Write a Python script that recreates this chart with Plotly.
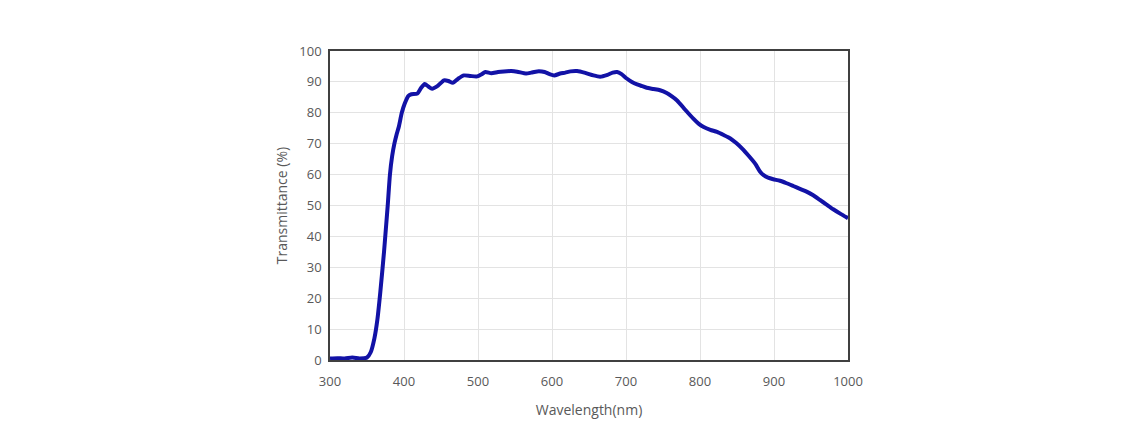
import plotly.graph_objects as go

wavelength = [300, 310, 320, 330, 340, 350, 355, 360, 364, 368, 373, 376, 378, 381, 384, 387, 390, 393, 397, 401,
              406, 410, 418, 423, 428, 433, 438, 446, 454, 460, 466, 473, 481, 490, 499, 505, 510, 518, 527, 535,
              545, 553, 565, 572, 580, 590, 596, 603, 611, 618, 625, 634, 645, 656, 665, 675, 682, 688, 694, 701,
              708, 715, 722, 728, 737, 746, 755, 762, 769, 780, 791, 798, 805, 814, 823, 832, 841, 849, 857, 866,
              875, 881, 886, 892, 899, 908, 917, 926, 935, 944, 953, 962, 971, 980, 990, 1000]
transmittance = [0.5, 0.6, 0.5, 0.8, 0.5, 0.8, 2.5, 7, 13, 22, 35, 44, 50, 60, 66, 70, 73, 75.5, 80, 83,
                 85.5, 86, 86.2, 88, 89.3, 88.5, 87.8, 88.8, 90.5, 90.3, 89.7, 91, 92.1, 91.9, 91.8, 92.5, 93.2, 92.8, 93.2, 93.4,
                 93.5, 93.3, 92.7, 93.0, 93.4, 93.2, 92.6, 92.1, 92.7, 93.0, 93.4, 93.5, 92.9, 92.1, 91.7, 92.3, 93.0, 93.2, 92.5, 91.1,
                 90.0, 89.2, 88.6, 88.1, 87.7, 87.3, 86.4, 85.3, 84.0, 81.0, 78.1, 76.5, 75.4, 74.5, 73.8, 72.8, 71.7, 70.2, 68.4, 66.0,
                 63.4, 61.0, 59.8, 59.0, 58.5, 58.0, 57.2, 56.3, 55.4, 54.5, 53.3, 51.8, 50.3, 48.8, 47.3, 45.9]

x_ticks = [300, 400, 500, 600, 700, 800, 900, 1000]
y_ticks = [0, 10, 20, 30, 40, 50, 60, 70, 80, 90, 100]

fig = go.Figure()
fig.add_trace(go.Scatter(x=wavelength, y=transmittance, mode="lines",
                         line=dict(color="#1212a6", width=4, shape="spline", smoothing=0.6),
                         showlegend=False, hoverinfo="skip"))

font_family = "Open Sans, Noto Sans, sans-serif"
fig.update_layout(
    width=1133, height=435,
    margin=dict(l=321.5, r=293, t=42.5, b=82.5),
    paper_bgcolor="white", plot_bgcolor="white",
    font=dict(family=font_family, color="#595959", size=13),
    xaxis=dict(range=[300, 1000], tickvals=x_ticks, ticktext=[str(v) for v in x_ticks],
               showgrid=True, gridcolor="#e3e3e3", gridwidth=1,
               showline=True, linecolor="#404040", linewidth=1.5, mirror=True,
               zeroline=False, ticks="outside", ticklen=9, tickcolor="rgba(0,0,0,0)",
               tickfont=dict(size=13, color="#595959"),
               title=dict(text="Wavelength(nm)", font=dict(size=14, color="#595959"), standoff=16)),
    yaxis=dict(range=[0, 100], tickvals=y_ticks, ticktext=[str(v) for v in y_ticks],
               showgrid=True, gridcolor="#e3e3e3", gridwidth=1,
               showline=True, linecolor="#404040", linewidth=1.5, mirror=True,
               zeroline=False, ticks="outside", ticklen=4, tickcolor="rgba(0,0,0,0)",
               tickfont=dict(size=13, color="#595959"),
               title=dict(text="Transmittance (%)", font=dict(size=14, color="#595959"), standoff=8)),
)

fig.write_html("out.html")
